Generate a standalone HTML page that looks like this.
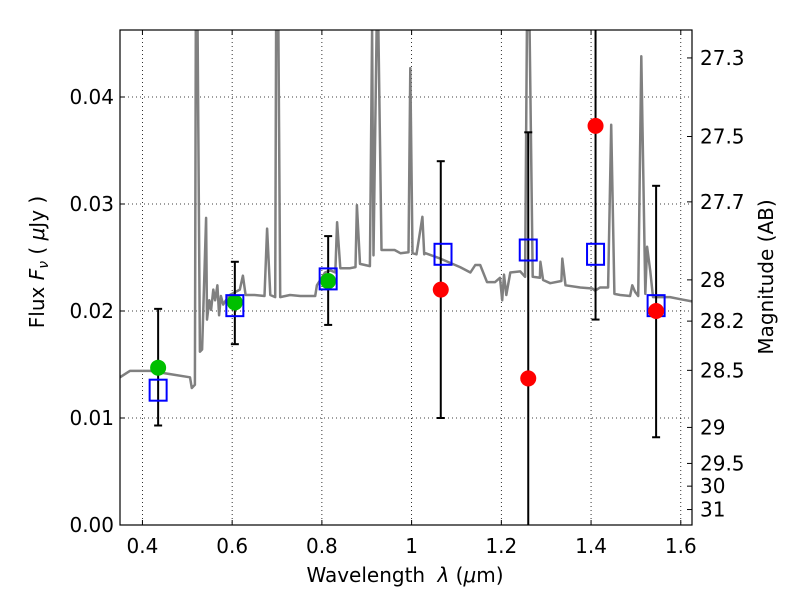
<!DOCTYPE html>
<html><head><meta charset="utf-8"><style>
html,body{margin:0;padding:0;background:#fff;width:800px;height:600px;overflow:hidden;}
svg{display:block;font-family:"DejaVu Sans","Liberation Sans",sans-serif;}
</style></head><body>
<svg id="chart" width="800" height="600" viewBox="0 0 800 600" xmlns="http://www.w3.org/2000/svg">
<rect width="800" height="600" fill="#fff"/>
<g id="grid"></g>
<g id="spec"></g>
<g id="marks"></g>
<g id="axes"></g>
<text x="405" y="582" font-size="20" text-anchor="middle">Wavelength  <tspan font-style="italic" dx="6">λ</tspan> (<tspan font-style="italic">μ</tspan>m)</text>
<text transform="translate(44,262) rotate(-90)" font-size="20" text-anchor="middle">Flux  <tspan font-style="italic">F</tspan><tspan font-style="italic" font-size="14" dy="4">ν</tspan><tspan dy="-4">  (  </tspan><tspan font-style="italic">μ</tspan>Jy )</text>
<text transform="translate(773,277) rotate(-90)" font-size="20" text-anchor="middle">Magnitude (AB)</text>
</svg>
<script>
const xTicks=[0.4,0.6,0.8,1,1.2,1.4,1.6];
const xTickLabels=["0.4","0.6","0.8","1","1.2","1.4","1.6"];
const yTicks=[0,0.01,0.02,0.03,0.04];
const yTickLabels=["0.00","0.01","0.02","0.03","0.04"];
const magTicks=[27.3,27.5,27.7,28,28.2,28.5,29,29.5,30,31];
const magTickLabels=["27.3","27.5","27.7","28","28.2","28.5","29","29.5","30","31"];
const greenX=[0.435,0.606,0.814];
const greenY=[0.0147,0.0208,0.0228];
const blueX=[0.435,0.606,0.814,1.07,1.26,1.41,1.545];
const blueY=[0.0126,0.0205,0.023,0.0253,0.0257,0.0253,0.0205];
const redX=[1.065,1.26,1.41,1.545];
const redY=[0.022,0.0137,0.0373,0.0200];
const errX=[0.435,0.606,0.814,1.065,1.26,1.41,1.545];
const errLo=[0.0093,0.0169,0.0187,0.0100,-0.01,0.0192,0.0082];
const errHi=[0.0202,0.0246,0.0270,0.0340,0.0367,0.06,0.0317];
const specX=[0.35,0.372,0.417,0.462,0.506,0.510,0.517,0.519,0.523,0.528,0.533,0.542,0.544,0.549,0.553,0.558,0.562,0.567,0.571,0.575,0.580,0.586,0.595,0.617,0.624,0.630,0.650,0.672,0.678,0.685,0.696,0.698,0.703,0.707,0.729,0.752,0.785,0.789,0.807,0.819,0.830,0.834,0.841,0.863,0.875,0.878,0.885,0.907,0.912,0.915,0.922,0.926,0.933,0.939,0.962,0.975,0.993,0.997,1.002,1.011,1.024,1.028,1.031,1.064,1.108,1.131,1.142,1.153,1.168,1.186,1.197,1.202,1.206,1.211,1.220,1.242,1.253,1.257,1.263,1.270,1.286,1.287,1.293,1.309,1.334,1.336,1.343,1.376,1.403,1.409,1.420,1.438,1.445,1.452,1.465,1.487,1.492,1.498,1.505,1.512,1.521,1.525,1.532,1.538,1.576,1.599,1.625];
const specY=[0.0138,0.0144,0.0144,0.0141,0.0138,0.0128,0.0131,0.05,0.05,0.0162,0.0164,0.0287,0.0192,0.0210,0.0201,0.0220,0.0210,0.0224,0.0196,0.0214,0.0206,0.0210,0.0215,0.0220,0.0233,0.0215,0.0215,0.0214,0.0277,0.0215,0.0213,0.05,0.05,0.0213,0.0215,0.0214,0.0214,0.0224,0.0236,0.0238,0.0236,0.0283,0.0240,0.0240,0.0241,0.0299,0.0244,0.0242,0.05,0.0252,0.05,0.05,0.0257,0.0257,0.0257,0.0254,0.0255,0.0427,0.0254,0.0253,0.0288,0.0253,0.0254,0.0249,0.0241,0.0236,0.0243,0.0243,0.0227,0.0227,0.0231,0.0210,0.0234,0.0215,0.0236,0.0237,0.0232,0.05,0.05,0.0232,0.0231,0.0246,0.0229,0.0226,0.0228,0.0249,0.0224,0.0222,0.0221,0.0219,0.0222,0.0222,0.0374,0.0216,0.0215,0.0214,0.0224,0.0218,0.0214,0.0438,0.0216,0.0260,0.0237,0.0213,0.0213,0.0211,0.0209];

const L=120,R=692,T=30,B=525;
const xMin=0.35,xMax=1.625,yMin=0,yMax=(B-T)/10700;
const sx=v=>L+(v-xMin)/(xMax-xMin)*(R-L);
const sy=v=>B-(v-yMin)/(yMax-yMin)*(B-T);
const cy=v=>Math.max(T,Math.min(B,sy(v)));
const NS="http://www.w3.org/2000/svg";
function mk(tag,attrs,parent){const e=document.createElementNS(NS,tag);for(const k in attrs)e.setAttribute(k,attrs[k]);parent.appendChild(e);return e;}
const grid=document.getElementById('grid'),spec=document.getElementById('spec'),marks=document.getElementById('marks'),axes=document.getElementById('axes');
xTicks.forEach((t,i)=>{const x=sx(t);
 const g=mk('line',{x1:x,x2:x,y1:T,y2:B,stroke:'#000','stroke-width':0.8,'stroke-dasharray':'1,3'},grid);
 
 
 mk('line',{x1:x,x2:x,y1:B,y2:B-5,stroke:'#000'},axes);
 mk('line',{x1:x,x2:x,y1:T,y2:T+5,stroke:'#000'},axes);
 const tx=mk('text',{x:x,y:B+28,'font-size':20,'text-anchor':'middle'},axes);tx.textContent=xTickLabels[i];
 
 
});
yTicks.forEach((t,i)=>{const y=sy(t);
 const g=mk('line',{x1:L,x2:R,y1:y,y2:y,stroke:'#000','stroke-width':0.8,'stroke-dasharray':'1,3'},grid);
 
 
 mk('line',{x1:L,x2:L+5,y1:y,y2:y,stroke:'#000'},axes);
 const tx=mk('text',{x:L-6,y:y+7,'font-size':20,'text-anchor':'end'},axes);tx.textContent=yTickLabels[i];
 
 
});
magTicks.forEach((m,i)=>{const f=Math.pow(10,(23.9-m)/2.5);const y=sy(f);
 mk('line',{x1:R,x2:R-5,y1:y,y2:y,stroke:'#000'},axes);
 const tx=mk('text',{x:R+8,y:y+7,'font-size':20},axes);tx.textContent=magTickLabels[i];
 
 
});
const clip=mk('clipPath',{id:'pc'},document.getElementById('chart'));mk('rect',{x:L,y:T,width:R-L,height:B-T},clip);
spec.setAttribute('clip-path','url(#pc)');marks.setAttribute('clip-path','url(#pc)');
const pts=specX.map((x,i)=>sx(x).toFixed(1)+','+cy(specY[i]).toFixed(1)).join(' ');
const pl=mk('polyline',{points:pts,fill:'none',stroke:'#808080','stroke-width':2.5,'stroke-linejoin':'round'},spec);


errX.forEach((x,i)=>{const X=sx(x),y1=cy(errLo[i]),y2=cy(errHi[i]);
 const e=mk('g',{},marks);
 
 
 mk('line',{x1:X,x2:X,y1:y1,y2:y2,stroke:'#000','stroke-width':2},e);
 if(y1<B) mk('line',{x1:X-4,x2:X+4,y1:y1,y2:y1,stroke:'#000','stroke-width':2},e);
 if(y2>T) mk('line',{x1:X-4,x2:X+4,y1:y2,y2:y2,stroke:'#000','stroke-width':2},e);
});
greenX.forEach((x,i)=>{const c=mk('circle',{cx:sx(x),cy:sy(greenY[i]),r:8,fill:'#00bf00'},marks);
 
 });
blueX.forEach((x,i)=>{const r=mk('rect',{x:sx(x)-8.5,y:sy(blueY[i])-10.5,width:17,height:21,fill:'none',stroke:'#0000ff','stroke-width':2},marks);
 
 });
redX.forEach((x,i)=>{const c=mk('circle',{cx:sx(x),cy:sy(redY[i]),r:8,fill:'#ff0000'},marks);
 
 });
const fr=mk('rect',{x:L,y:T,width:R-L,height:B-T,fill:'none',stroke:'#000','stroke-width':1.2},axes);


</script>
</body></html>
